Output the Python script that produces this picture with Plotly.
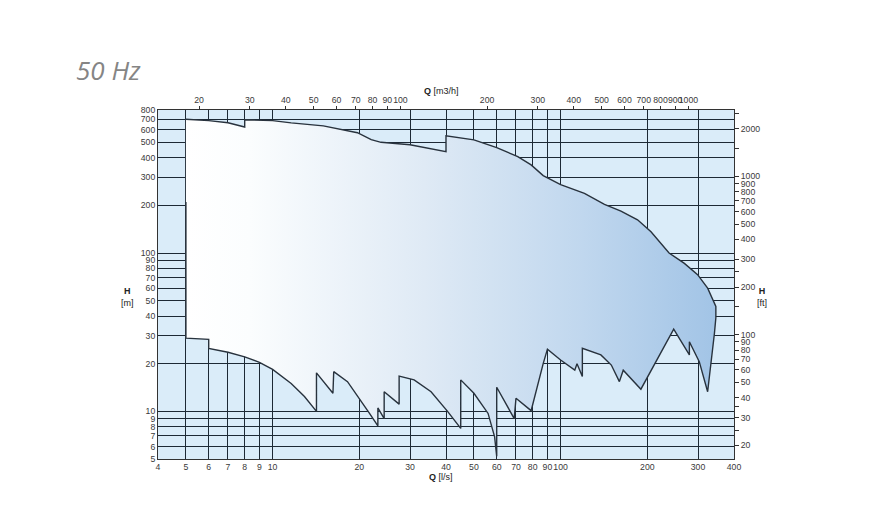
import math
import plotly.graph_objects as go

# ---- data (Q in l/s, H in m) ----
upper_q = [5, 6, 7, 8, 8, 10, 11.6, 15, 19.7, 22, 23.8, 30, 40, 40, 50, 60, 71, 79, 87,
           100, 121, 142, 162, 185, 206, 223, 238, 269, 299, 324, 346, 346, 342, 324]
upper_h = [700, 685, 665, 625, 695, 685, 663, 635, 575, 520, 500, 483, 437, 550, 518, 463,
           406, 360, 308, 270, 238, 203, 184, 162, 136, 115, 100, 86, 73, 60, 46, 39, 31, 13.3]

lower_q = [303, 280, 280, 247, 223, 190, 165, 160, 150, 138, 119, 119, 114, 112, 100, 90,
           87, 79, 70, 69, 60, 60, 59, 56, 50, 45, 45, 40.5, 35.5, 31, 27.5, 27.5, 24.4,
           24.4, 23.2, 23.2, 21.7, 20, 18.2, 16.3, 16.2, 14.2, 14.2, 12.9, 11.6, 10, 9, 8,
           7, 6, 6, 5, 5]
lower_h = [20.6, 27.5, 22.7, 33, 23.3, 13.8, 18.2, 15.4, 19.6, 22.7, 25, 16.6, 20, 18.2,
           21.1, 24.7, 20, 10.1, 12.1, 9, 14.2, 5.2, 6.9, 9.7, 13, 15.8, 7.8, 10, 13.3, 15.8,
           16.7, 11.1, 13.3, 9, 10.5, 8.1, 9.7, 12.1, 15.4, 17.8, 13, 17.5, 10, 12.4, 15,
           18.4, 20.4, 22.1, 23.6, 25, 28.5, 29, 210]

q_ls_ticks = [4, 5, 6, 7, 8, 9, 10, 20, 30, 40, 50, 60, 70, 80, 90, 100, 200, 300, 400]
q_m3h_ticks = [20, 30, 40, 50, 60, 70, 80, 90, 100, 200, 300, 400, 500, 600, 700, 800, 900, 1000]
h_m_ticks = [5, 6, 7, 8, 9, 10, 20, 30, 40, 50, 60, 70, 80, 90, 100, 200, 300, 400, 500, 600, 700, 800]
h_ft_ticks = [20, 25, 30, 35, 40, 50, 60, 70, 80, 90, 100, 150, 200, 250, 300, 400, 500, 600,
              700, 800, 900, 1000, 1500, 2000, 2500]
h_ft_labels = ["20", "", "30", "", "40", "50", "60", "70", "80", "90", "100", "", "200", "",
               "300", "400", "500", "600", "700", "800", "900", "1000", "", "2000", ""]

Q_MIN, Q_MAX = 4, 400
H_MIN, H_MAX = 5, 800
M3H_PER_LS = 3.6
FT_PER_M = 3.28084

# ---- geometry helpers ----
W, H = 888, 518
L, R, T, B = 158, 154, 110, 59
pw, ph = W - L - R, H - T - B


def paper(xp, yp):
    return (xp - L) / pw, (H - B - yp) / ph


poly_q = upper_q + lower_q
poly_h = upper_h + lower_h

fig = go.Figure()
fig.add_trace(go.Scatter(
    x=poly_q + [upper_q[0]], y=poly_h + [upper_h[0]],
    mode="lines", fill="toself", line=dict(width=0),
    fillgradient=dict(type="horizontal",
                      colorscale=[[0, "#ffffff"], [0.12, "#fbfdfe"], [0.45, "#dfeaf5"],
                                  [0.75, "#c0d7ee"], [1, "#a2c4e6"]]),
    hoverinfo="skip", showlegend=False))
fig.add_trace(go.Scatter(
    x=poly_q, y=poly_h, mode="lines",
    line=dict(color="#28323d", width=1.4),
    hoverinfo="skip", showlegend=False))
# trace on the secondary (m3/h, ft) axes
fig.add_trace(go.Scatter(
    x=[q * M3H_PER_LS for q in upper_q], y=[h * FT_PER_M for h in upper_h],
    mode="markers", marker=dict(opacity=0), xaxis="x2", yaxis="y2",
    hoverinfo="skip", showlegend=False))

tickfont = dict(family="Liberation Sans, Arial", size=8.7, color="#3a3a3a")
gridc = "#1d2935"

fig.update_layout(
    width=W, height=H,
    margin=dict(l=L, r=R, t=T, b=B, autoexpand=False),
    paper_bgcolor="white", plot_bgcolor="#daecf9",
    showlegend=False,
    xaxis=dict(type="log", range=[math.log10(Q_MIN), math.log10(Q_MAX)],
               tickvals=q_ls_ticks, ticktext=[str(v) for v in q_ls_ticks],
               showgrid=True, gridcolor=gridc, gridwidth=1.3,
               showline=True, linecolor="#333", linewidth=1, mirror=True,
               ticks="", zeroline=False, tickfont=tickfont, tickangle=0,
               automargin=False),
    xaxis2=dict(type="log", overlaying="x", side="top", anchor="y",
                range=[math.log10(Q_MIN * M3H_PER_LS), math.log10(Q_MAX * M3H_PER_LS)],
                tickvals=q_m3h_ticks, ticktext=[str(v) for v in q_m3h_ticks],
                showgrid=False, ticks="outside", ticklen=3, tickcolor="#333",
                zeroline=False, tickfont=tickfont, tickangle=0, automargin=False),
    yaxis=dict(type="log", range=[math.log10(H_MIN), math.log10(H_MAX)],
               tickvals=h_m_ticks, ticktext=[str(v) for v in h_m_ticks],
               showgrid=True, gridcolor=gridc, gridwidth=1.3,
               showline=True, linecolor="#333", linewidth=1, mirror=True,
               ticks="", zeroline=False, tickfont=tickfont, automargin=False),
    yaxis2=dict(type="log", overlaying="y", side="right", anchor="x",
                range=[math.log10(H_MIN * FT_PER_M), math.log10(H_MAX * FT_PER_M)],
                tickvals=h_ft_ticks, ticktext=h_ft_labels,
                showgrid=False, ticks="outside", ticklen=4, tickcolor="#333",
                zeroline=False, tickfont=tickfont, automargin=False),
)

annots = [
    ("50 Hz", 74, 70, "left", dict(family="Open Sans", size=26, color="#858585"), True),
    ("<b>Q</b> [m3/h]", 441, 91, "center", dict(family="Liberation Sans, Arial", size=9, color="#222"), False),
    ("<b>Q</b> [l/s]", 441, 477, "center", dict(family="Liberation Sans, Arial", size=9, color="#222"), False),
    ("<b>H</b><br>[m]", 127, 297, "center", dict(family="Liberation Sans, Arial", size=9, color="#222"), False),
    ("<b>H</b><br>[ft]", 762, 297, "center", dict(family="Liberation Sans, Arial", size=9, color="#222"), False),
]
for text, xp, yp, anchor, font, italic in annots:
    px, py = paper(xp, yp)
    fig.add_annotation(text=f"<i>{text}</i>" if italic else text,
                       x=px, y=py, xref="paper", yref="paper",
                       xanchor=anchor, yanchor="middle", showarrow=False,
                       font=font, align="center")

fig.write_html("out.html",
               config={"displayModeBar": False},
               post_script="document.body.style.margin='0';document.body.style.overflow='hidden';")
